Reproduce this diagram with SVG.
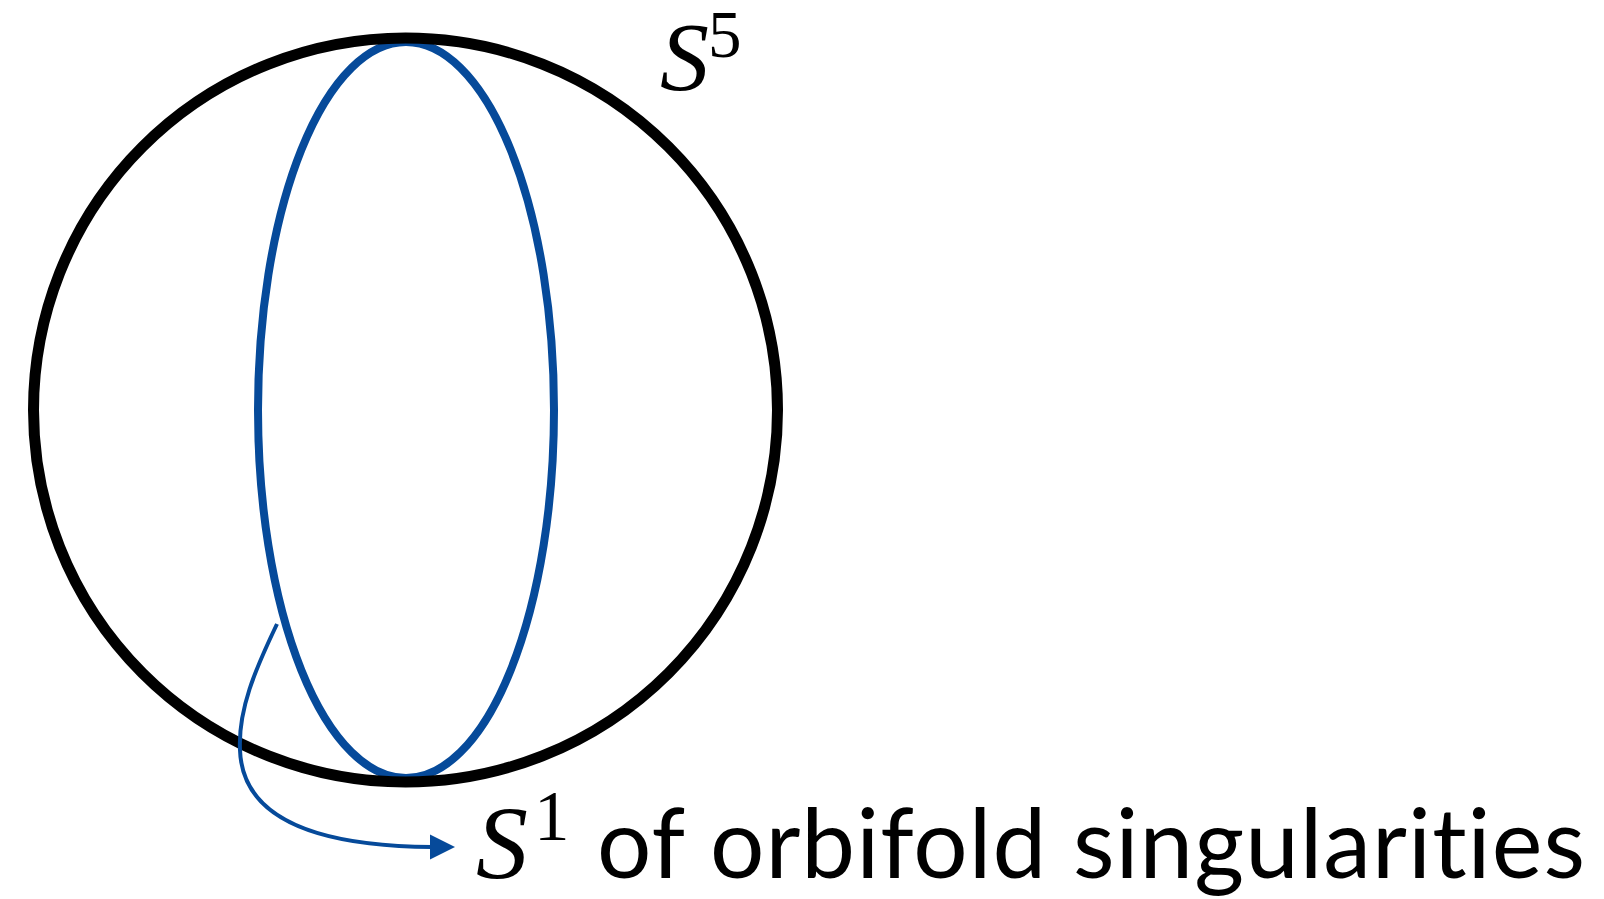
<svg xmlns="http://www.w3.org/2000/svg" width="1604" height="899" viewBox="0 0 1604 899">
<style>
.sphere{fill:none;stroke:#000;stroke-width:11}
.orb{fill:none;stroke:#064A9A;stroke-width:8}
.conn{fill:none;stroke:#064A9A;stroke-width:4}
.math{font-family:"Liberation Serif",serif;font-style:italic;fill:#000}
.sup{font-family:"Liberation Serif",serif;fill:#000}
.lbl{font-family:Lato,"Liberation Sans",sans-serif;fill:#000;font-variant-ligatures:none;font-feature-settings:"liga" 0,"dlig" 0,"clig" 0}
</style>
<rect width="1604" height="899" fill="#fff"/>
<g id="singular-circle">
<ellipse cx="406" cy="410" rx="148" ry="368" class="orb"/>
</g>
<g id="sphere-s5">
<circle cx="405.5" cy="410" r="372" class="sphere"/>
<text x="660" y="90" class="math" font-size="98">S</text>
<text x="708" y="57" class="sup" font-size="67">5</text>
</g>
<g id="connectors">
<path d="M 277 624 C 255 670, 238 710, 240 750 C 242 810, 300 846, 432 847" class="conn"/>
<polygon points="455,847 430,834.5 430,859.5" fill="#064A9A"/>
</g>
<g id="label-s1">
<text x="476" y="878" class="math" font-size="104">S</text>
<text x="534" y="840" class="sup" font-size="71">1</text>
<text x="597" y="878" class="lbl" font-size="96" textLength="988">of orbifold singularities</text>
</g>
</svg>
